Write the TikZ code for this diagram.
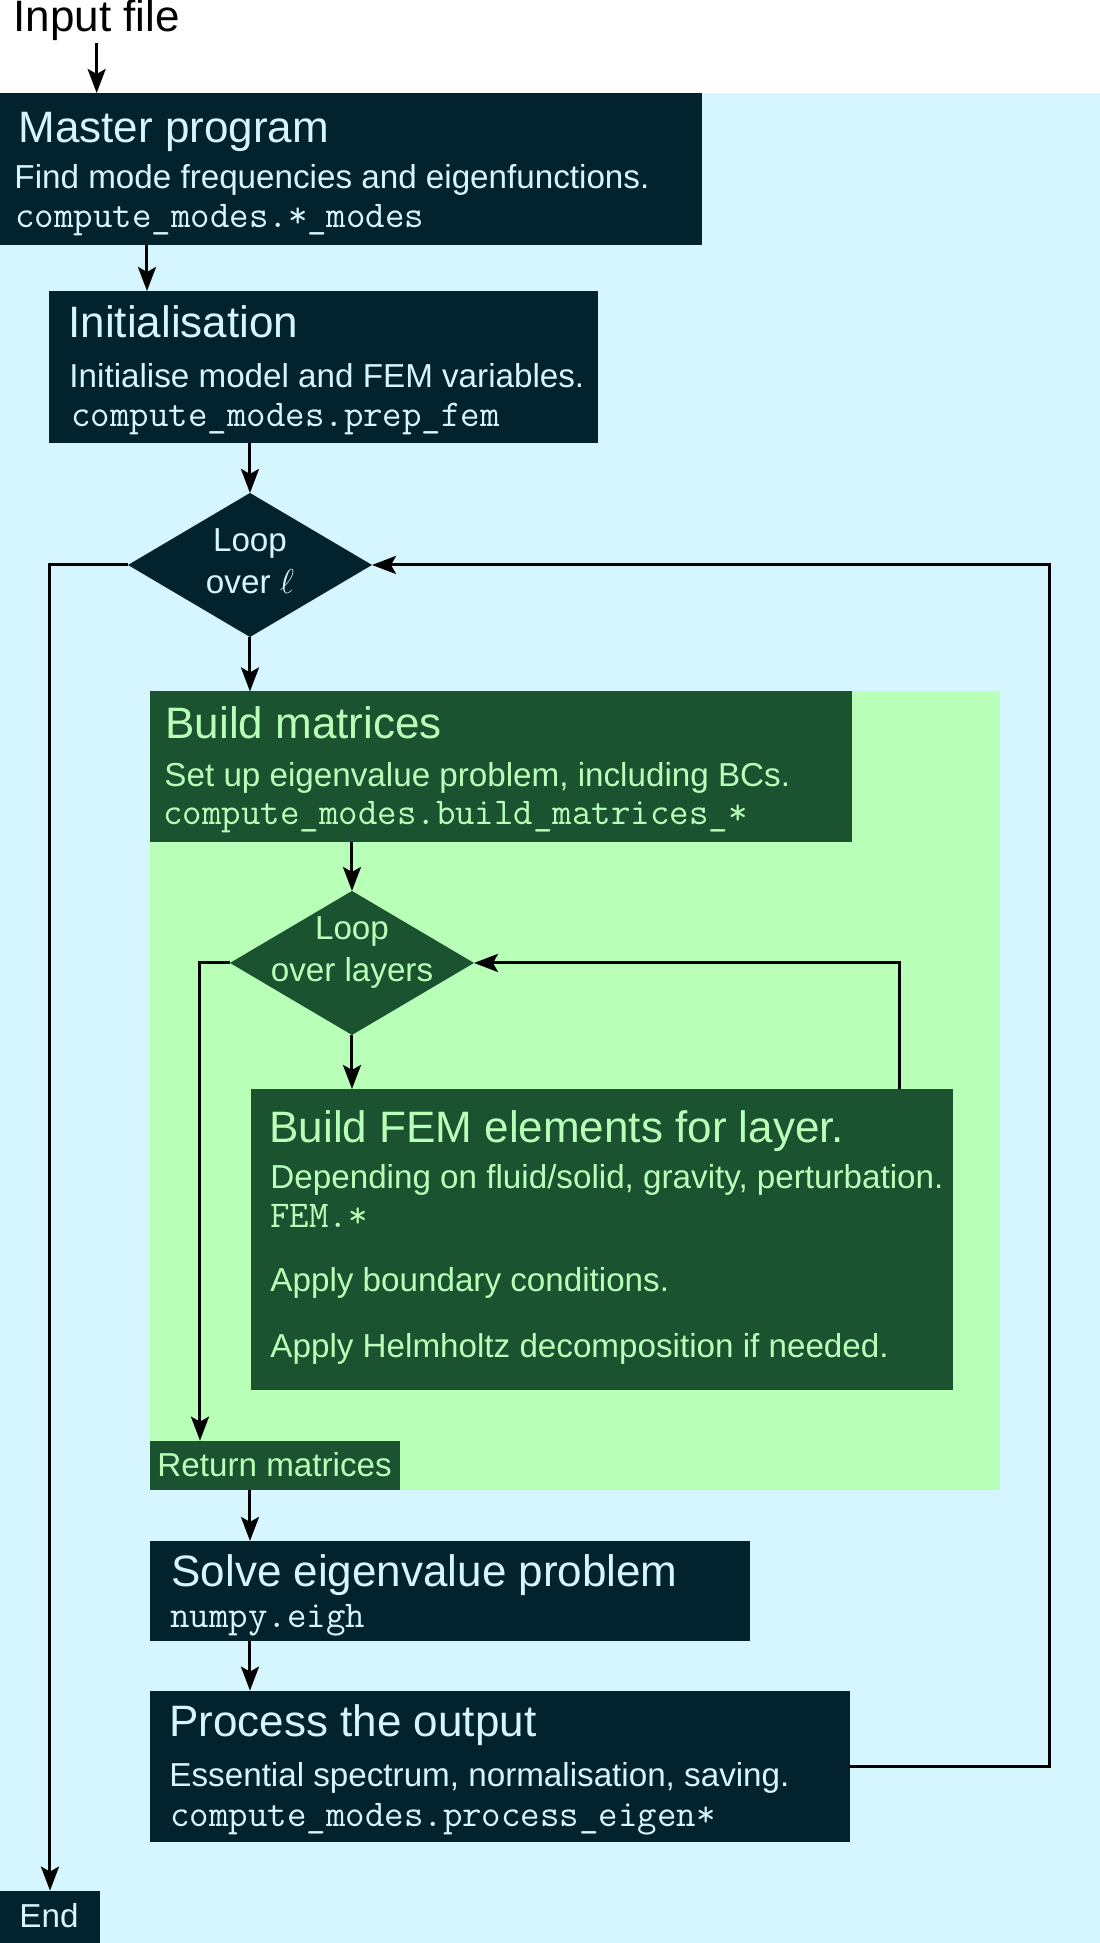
\documentclass[tikz,border=0pt]{standalone}
\usepackage{fontspec}
\setmainfont{Liberation Sans}
\usepackage{tikz}
\usetikzlibrary{arrows.meta}
\usetikzlibrary{shapes.geometric}
\definecolor{darkbox}{HTML}{02232D}
\definecolor{lightblue}{HTML}{D5F5FF}
\definecolor{darkgreen}{HTML}{1B5230}
\definecolor{lightgreen}{HTML}{B8FFB8}
\tikzset {
  x=0.5pt, y=-0.5pt,
  >={Stealth[length=12pt, width=9pt, inset=2.5pt]},
  % boxes of the outer loop
  bluebox/.style = {anchor=north west, fill=darkbox, inner sep=0pt, outer sep=0pt},
  % boxes inside the matrix building step
  greenbox/.style = {anchor=north west, fill=darkgreen, inner sep=0pt, outer sep=0pt},
  % loop diamonds
  decision/.style = {diamond, inner sep=0pt, outer sep=0pt, minimum width=122pt, minimum height=72pt},
  % text lines
  headtext/.style = {anchor=base west, inner sep=0pt, font=\fontsize{22}{26}\selectfont},
  bodytext/.style = {anchor=base west, inner sep=0pt, font=\fontsize{16.6}{20}\selectfont},
  monotext/.style = {anchor=base west, inner sep=0pt, font=\ttfamily\fontsize{18.9}{22}\selectfont},
  onblue/.style = {text=lightblue},
  ongreen/.style = {text=lightgreen},
}
\begin{document}
\begin{tikzpicture}[line width=1.5pt]
  \fill[white] (0,0) rectangle (1100,1943);
  \fill[lightblue] (0,93) rectangle (1100,1943);
  \fill[lightgreen] (150,691.5) rectangle (1000,1490);

  \node[headtext] (input) at (12,32) {Input file};

  \node[bluebox, minimum width=351pt, minimum height=76pt] (master) at (0,93) {};
  \node[headtext, onblue] (mastert) at (17,143) {Master program};
  \node[bodytext, onblue] (masterd) at (13,189) {Find mode frequencies and eigenfunctions.};
  \node[monotext, onblue] (masterc) at (14,228) {compute\_modes.*\_modes};

  \node[bluebox, minimum width=274.5pt, minimum height=76pt] (init) at (49,291) {};
  \node[headtext, onblue] (initt) at (67,338) {Initialisation};
  \node[bodytext, onblue] (initd) at (68,388) {Initialise model and FEM variables.};
  \node[monotext, onblue] (initc) at (70,427) {compute\_modes.prep\_fem};

  \node[decision, fill=darkbox] (lpl) at (250,565) {};
  \node[bodytext, onblue, anchor=base] (lpla) at (250,552) {Loop};
  \node[bodytext, onblue, anchor=base] (lplb) at (250,594) {over $\ell$};

  \node[greenbox, minimum width=351pt, minimum height=75.5pt] (build) at (150,691.5) {};
  \node[headtext, ongreen] (buildt) at (164,739) {Build matrices};
  \node[bodytext, ongreen] (buildd) at (163,787) {Set up eigenvalue problem, including BCs.};
  \node[monotext, ongreen] (buildc) at (162,825) {compute\_modes.build\_matrices\_*};

  \node[decision, fill=darkgreen] (lyr) at (352,963) {};
  \node[bodytext, ongreen, anchor=base] (lyra) at (352,940) {Loop};
  \node[bodytext, ongreen, anchor=base] (lyrb) at (352,982) {over layers};

  \node[greenbox, minimum width=351pt, minimum height=150.5pt] (fem) at (251,1089) {};
  \node[headtext, ongreen] (femt) at (268,1143) {Build FEM elements for layer.};
  \node[bodytext, ongreen] (femd) at (269,1189) {Depending on fluid/solid, gravity, perturbation.};
  \node[monotext, ongreen] (femc) at (269,1228) {FEM.*};
  \node[bodytext, ongreen] (femb) at (269,1292) {Apply boundary conditions.};
  \node[bodytext, ongreen] (femh) at (269,1358) {Apply Helmholtz decomposition if needed.};

  \node[greenbox, minimum width=125pt, minimum height=24.7pt] (ret) at (150,1440.7) {};
  \node[bodytext, ongreen] (rett) at (156,1477) {Return matrices};

  \node[bluebox, minimum width=300pt, minimum height=50pt] (solve) at (150,1541) {};
  \node[headtext, onblue] (solvet) at (170,1587) {Solve eigenvalue problem};
  \node[monotext, onblue] (solvec) at (169,1628) {numpy.eigh};

  \node[bluebox, minimum width=350pt, minimum height=75.6pt] (process) at (150,1690.7) {};
  \node[headtext, onblue] (processt) at (168,1737) {Process the output};
  \node[bodytext, onblue] (processd) at (168,1787) {Essential spectrum, normalisation, saving.};
  \node[monotext, onblue] (processc) at (169,1827) {compute\_modes.process\_eigen*};

  \node[bluebox, minimum width=50pt, minimum height=26.2pt] (end) at (0,1890.7) {};
  \node[bodytext, onblue] (endt) at (18,1928) {End};

  \coordinate (mi) at ([xshift=49pt]init.north west);
  \coordinate (fb) at ([xshift=-26.5pt]fem.north east);
  \coordinate (rb) at ([xshift=25pt]ret.north west);
  \coordinate (sa) at ([xshift=50pt]solve.north west);
  \coordinate (pa) at ([xshift=50pt]process.north west);

  \draw [->] (input.south) -- (master.north -| input.south);
  \draw [->] (master.south -| mi) -- (mi);
  \draw [->] (init.south -| lpl.north) -- (lpl.north);
  \draw [->] (lpl.south) -- (build.north -| lpl.south);
  \draw [->] (build.south -| lyr.north) -- (lyr.north);
  \draw [->] (lyr.south) -- (fem.north -| lyr.south);
  \draw [->] (fb) |- (lyr.east);
  \draw [->] (lyr.west) -| (rb);
  \draw [->] (ret.south -| sa) -- (sa);
  \draw [->] (solve.south -| pa) -- (pa);
  \draw [->] (process.east) -- ++(100pt,0) |- (lpl.east);
  \draw [->] (lpl.west) -| (end.north);
\end{tikzpicture}
\end{document}
